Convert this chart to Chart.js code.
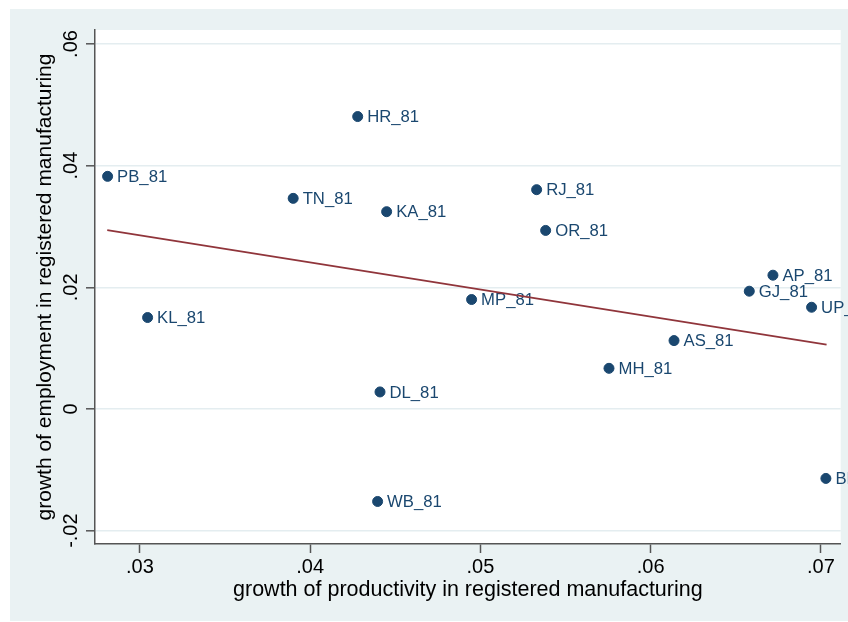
<!DOCTYPE html>
<html>
<head>
<meta charset="utf-8">
<script src="https://cdn.jsdelivr.net/npm/chart.js@4.4.0/dist/chart.umd.min.js"></script>
<style>
  html, body { margin: 0; padding: 0; background: #fff; }
  canvas { display: block; }
</style>
</head>
<body>
<canvas id="scatterChart" width="848" height="622"></canvas>
<script>
// marker labels (state codes)
const stateLabels = ['PB_81', 'KL_81', 'TN_81', 'HR_81', 'KA_81', 'DL_81', 'WB_81', 'MP_81',
                     'RJ_81', 'OR_81', 'MH_81', 'AS_81', 'GJ_81', 'AP_81', 'UP_81', 'BR_81'];
// growth of productivity in registered manufacturing (x)
const prodGrowth = [0.0281, 0.03045, 0.0390, 0.04279, 0.04449, 0.0441, 0.04396, 0.04948,
                    0.0533, 0.05383, 0.05755, 0.06137, 0.06579, 0.06718, 0.06945, 0.07029];
// growth of employment in registered manufacturing (y)
const empGrowth = [0.03824, 0.01503, 0.03462, 0.04807, 0.03243, 0.0028, -0.01521, 0.01799,
                   0.03605, 0.02935, 0.00668, 0.01124, 0.01936, 0.02199, 0.01672, -0.01142];
// fitted line, read at both ends
const fitX = [0.02808, 0.07033];
const fitY = [0.0294, 0.01058];
// axis ticks
const xTicks = [0.03, 0.04, 0.05, 0.06, 0.07];
const xTickLabels = ['.03', '.04', '.05', '.06', '.07'];
const yTicks = [-0.02, 0, 0.02, 0.04, 0.06];
const yTickLabels = ['-.02', '0', '.02', '.04', '.06'];

const navy = '#1a476f';
const maroon = '#90353b';
const axisGray = '#555555';
const fontFam = '"Liberation Sans", Arial, Helvetica, sans-serif';

Chart.defaults.font.family = fontFam;

// light bluish graph region + white plot region
const panelBg = {
  id: 'panelBg',
  beforeDraw(chart) {
    const { ctx, chartArea } = chart;
    ctx.save();
    ctx.fillStyle = '#eaf2f3';
    ctx.fillRect(10, 9, chart.width - 10, chart.height - 10);
    ctx.fillStyle = '#ffffff';
    ctx.fillRect(chartArea.left, chartArea.top,
                 chartArea.right - chartArea.left, chartArea.bottom - chartArea.top);
    ctx.restore();
  }
};

// text next to each marker, drawn right after the scatter so the fit line sits on top
const markerLabels = {
  id: 'markerLabels',
  afterDatasetDraw(chart, args) {
    if (args.index !== 1) return;
    const ctx = chart.ctx;
    ctx.save();
    ctx.font = '16.7px ' + fontFam;
    ctx.fillStyle = navy;
    ctx.textAlign = 'left';
    ctx.textBaseline = 'middle';
    args.meta.data.forEach((pt, i) => {
      ctx.fillText(stateLabels[i], pt.x + 9.5, pt.y + 1.2);
    });
    ctx.restore();
  }
};

const ctx = document.getElementById('scatterChart').getContext('2d');
new Chart(ctx, {
  type: 'scatter',
  data: {
    datasets: [{
      type: 'line',
      label: 'Fitted values',
      data: fitX.map((x, i) => ({ x: x, y: fitY[i] })),
      borderColor: maroon,
      borderWidth: 1.8,
      pointRadius: 0,
      fill: false,
      tension: 0
    }, {
      label: 'growth of employment in registered manufacturing',
      data: prodGrowth.map((x, i) => ({ x: x, y: empGrowth[i] })),
      backgroundColor: navy,
      borderColor: navy,
      borderWidth: 1,
      pointRadius: 5,
      pointHoverRadius: 5
    }]
  },
  options: {
    responsive: false,
    animation: false,
    devicePixelRatio: 1,
    events: [],
    layout: { padding: { top: 30, right: 7.3, bottom: 0, left: 0 } },
    plugins: {
      legend: { display: false },
      tooltip: { enabled: false }
    },
    scales: {
      x: {
        type: 'linear',
        min: 0.02736,
        max: 0.07116,
        afterBuildTicks: s => { s.ticks = xTicks.map(v => ({ value: v })); },
        afterFit: s => { s.height = 78; },
        ticks: {
          callback: (v, i) => xTickLabels[i],
          font: { size: 20 },
          color: '#000',
          padding: 2,
          autoSkip: false,
          maxRotation: 0
        },
        grid: { drawOnChartArea: false, tickLength: 9, tickColor: axisGray, tickWidth: 1.5 },
        border: { color: axisGray, width: 1.5 },
        title: {
          display: true,
          text: 'growth of productivity in registered manufacturing',
          font: { size: 21.5 },
          color: '#000',
          padding: { top: 0, bottom: 19.2 }
        }
      },
      y: {
        type: 'linear',
        min: -0.0222,
        max: 0.0623,
        afterBuildTicks: s => { s.ticks = yTicks.map(v => ({ value: v })); },
        afterFit: s => { s.width = 95; },
        ticks: {
          callback: (v, i) => yTickLabels[i],
          font: { size: 20 },
          color: '#000',
          padding: -3.2,
          minRotation: 90,
          maxRotation: 90,
          crossAlign: 'center',
          autoSkip: false
        },
        grid: { color: '#e4edf0', lineWidth: 1.6, tickLength: 9, tickColor: axisGray, tickWidth: 1.5 },
        border: { color: axisGray, width: 1.5 },
        title: {
          display: true,
          text: 'growth of employment in registered manufacturing',
          font: { size: 21 },
          color: '#000',
          padding: { top: 33.1, bottom: 0 }
        }
      }
    }
  },
  plugins: [panelBg, markerLabels]
});
</script>
</body>
</html>
